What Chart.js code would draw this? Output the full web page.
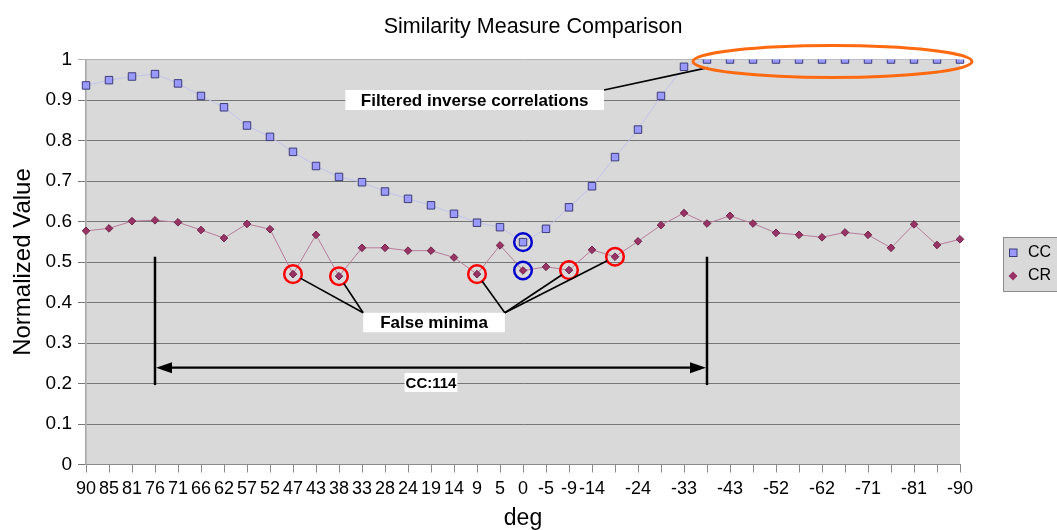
<!DOCTYPE html>
<html><head><meta charset="utf-8">
<script src="https://cdn.jsdelivr.net/npm/chart.js@4.4.1/dist/chart.umd.min.js"></script>
<style>html,body{margin:0;padding:0;background:#fff;}#wrap{width:1057px;height:530px;}</style>
</head><body><div id="wrap"><canvas id="c" width="1057" height="530"></canvas></div>
<script>
const categories = ['90','85','81','76','71','66','62','57','52','47','43','38','33','28','24','19','14','9','5','0','-5','-9','-14','-19','-24','-28','-33','-38','-43','-47','-52','-57','-62','-66','-71','-76','-81','-85','-90'];
const tickLabels = ['90','85','81','76','71','66','62','57','52','47','43','38','33','28','24','19','14','9','5','0','-5','-9','-14','','-24','','-33','','-43','','-52','','-62','','-71','','-81','','-90'];
const ccValues = [0.936,0.949,0.958,0.964,0.941,0.910,0.882,0.837,0.809,0.772,0.737,0.710,0.697,0.674,0.656,0.640,0.619,0.597,0.586,0.549,0.582,0.635,0.687,0.759,0.827,0.910,0.982,1,1,1,1,1,1,1,1,1,1,1,1];
const crValues = [0.577,0.583,0.601,0.603,0.598,0.579,0.559,0.594,0.581,0.470,0.567,0.465,0.535,0.535,0.528,0.528,0.511,0.470,0.541,0.479,0.488,0.480,0.530,0.513,0.551,0.591,0.621,0.595,0.614,0.595,0.572,0.567,0.561,0.573,0.567,0.535,0.593,0.542,0.556];
const falseMinimaIdx = [9,11,17,21,23];
const trueMinimumIdx = 19;
const ccSpanIdx = [3,27];
const filteredIdx = [27,38];
const chartTitle = 'Similarity Measure Comparison';

const FONT = "'Liberation Sans', Arial, sans-serif";
Chart.defaults.font.family = FONT;
Chart.defaults.color = '#000';

const annot = {
  id: 'annot',
  beforeDraw(chart) {
    const {ctx, chartArea: a} = chart;
    ctx.save();
    ctx.fillStyle = '#d9d9d9';
    ctx.fillRect(a.left, a.top, a.right - a.left, a.bottom - a.top);
    ctx.fillStyle = '#000'; ctx.font = '21.5px ' + FONT; ctx.textAlign = 'center'; ctx.textBaseline = 'alphabetic';
    ctx.fillText(chartTitle, 533, 32.5);
    ctx.restore();
  },
  afterDatasetsDraw(chart) {
    const ctx = chart.ctx, xs = chart.scales.x, ys = chart.scales.y;
    const X = i => xs.getPixelForValue(i), Y = v => ys.getPixelForValue(v);
    ctx.save();
    const circle = (x, y, r, col) => { ctx.beginPath(); ctx.arc(x, y, r, 0, Math.PI*2); ctx.strokeStyle = col; ctx.lineWidth = 2.5; ctx.stroke(); };
    const line = (x1,y1,x2,y2,w) => { ctx.beginPath(); ctx.moveTo(x1,y1); ctx.lineTo(x2,y2); ctx.strokeStyle='#000'; ctx.lineWidth=w; ctx.stroke(); };
    const box = (text, cx, cy, padX, h, size) => {
      ctx.font = 'bold ' + size + 'px ' + FONT;
      const w = ctx.measureText(text).width + padX*2;
      ctx.fillStyle = '#fff';
      ctx.fillRect(cx - w/2, cy - h/2, w, h);
      ctx.fillStyle = '#000'; ctx.textAlign = 'center'; ctx.textBaseline = 'middle';
      ctx.fillText(text, cx, cy + 1);
      return {l: cx - w/2, r: cx + w/2, t: cy - h/2, b: cy + h/2};
    };
    const R = 8.8;
    const xa = X(ccSpanIdx[0]), xb = X(ccSpanIdx[1]);
    line(xa, Y(0.513), xa, Y(0.196), 2.5);
    line(xb, Y(0.513), xb, Y(0.196), 2.5);
    const ya = Y(0.239);
    line(xa + 14, ya, xb - 14, ya, 2.2);
    ctx.fillStyle = '#000';
    ctx.beginPath(); ctx.moveTo(xa + 1, ya); ctx.lineTo(xa + 17, ya - 5.5); ctx.lineTo(xa + 17, ya + 5.5); ctx.closePath(); ctx.fill();
    ctx.beginPath(); ctx.moveTo(xb - 1, ya); ctx.lineTo(xb - 17, ya - 5.5); ctx.lineTo(xb - 17, ya + 5.5); ctx.closePath(); ctx.fill();
    box('CC:114', X(15.0), Y(0.2025), 1, 19, 15);
    const fm = box('False minima', X(15.13), Y(0.3506), 17, 19.5, 17);
    falseMinimaIdx.forEach((i) => {
      const cx = X(i), cy = Y(crValues[i]);
      circle(cx, cy, R, '#ff0000');
      const ax = i < 15 ? fm.l : fm.r, ay = fm.t;
      const dx = ax - cx, dy = ay - cy, d = Math.hypot(dx, dy);
      line(cx + dx/d*R, cy + dy/d*R, ax, ay, 1.6);
    });
    circle(X(trueMinimumIdx), Y(ccValues[trueMinimumIdx]), R, '#0000cc');
    circle(X(trueMinimumIdx), Y(crValues[trueMinimumIdx]), R, '#0000cc');
    const fb = box('Filtered inverse correlations', X(16.9), Y(0.9), 15.5, 20, 17);
    line(fb.r, fb.t, X(filteredIdx[0]) + 1, Y(0.98), 1.6);
    const el = X(filteredIdx[0] - 0.61), er = X(filteredIdx[1] + 0.52);
    ctx.beginPath();
    ctx.ellipse((el+er)/2, Y(0.995), (er-el)/2, 16, 0, 0, Math.PI*2);
    ctx.strokeStyle = '#ff6a10'; ctx.lineWidth = 3; ctx.stroke();
    // legend
    ctx.fillStyle = '#d9d9d9'; ctx.fillRect(1003, 237, 60, 54);
    ctx.strokeStyle = '#8c8c8c'; ctx.lineWidth = 1; ctx.strokeRect(1003.5, 237.5, 60, 54);
    ctx.fillStyle = '#9999ff'; ctx.fillRect(1009.5, 249, 7.5, 7.5);
    ctx.strokeStyle = '#3c3c78'; ctx.strokeRect(1009.5, 249, 7.5, 7.5);
    ctx.fillStyle = '#993366'; ctx.beginPath();
    ctx.moveTo(1013, 271.5); ctx.lineTo(1017.5, 276); ctx.lineTo(1013, 280.5); ctx.lineTo(1008.5, 276); ctx.closePath(); ctx.fill();
    ctx.fillStyle = '#000'; ctx.font = '16px ' + FONT; ctx.textAlign = 'left'; ctx.textBaseline = 'middle';
    ctx.fillText('CC', 1028, 253); ctx.fillText('CR', 1028, 276);
    ctx.restore();
  }
};

new Chart(document.getElementById('c'), {
  type: 'line',
  data: {
    labels: categories,
    datasets: [
      { label: 'CC', data: ccValues, borderColor: '#c2c2ee', borderWidth: 1, pointStyle: 'rect', pointRadius: 5.3,
        pointBackgroundColor: '#9999ff', pointBorderColor: '#3c3c78', pointBorderWidth: 1, tension: 0 },
      { label: 'CR', data: crValues, borderColor: '#b87c9a', borderWidth: 1, pointStyle: 'rectRot', pointRadius: 3.8,
        pointBackgroundColor: '#993366', pointBorderColor: '#6e2549', pointBorderWidth: 1, tension: 0 }
    ]
  },
  options: {
    responsive: false, animation: false, events: [],
    layout: { padding: { left: 0, right: 97, top: 59.5, bottom: 0 } },
    plugins: { legend: { display: false }, tooltip: { enabled: false }, title: { display: false } },
    scales: {
      x: {
        offset: false,
        afterFit: s => { s.height = 65.5; },
        grid: { drawOnChartArea: false, drawTicks: true, tickLength: 8, tickColor: '#8a8a8a' },
        border: { display: true, color: '#8a8a8a', width: 1 },
        ticks: { autoSkip: false, maxRotation: 0, minRotation: 0, padding: 6, color: '#000',
          font: { size: 18 }, callback: (v, i) => tickLabels[i] },
        title: { display: true, text: 'deg', color: '#000', font: { size: 23, lineHeight: 1 }, padding: { top: 0, bottom: 0 } }
      },
      y: {
        min: 0, max: 1,
        afterFit: s => { s.width = 86; },
        grid: { color: c => (c.tick && c.tick.value === 1) ? '#b4b4b4' : '#767676', lineWidth: 1, tickLength: 8,
          tickColor: c => (c.tick && c.tick.value === 1) ? '#b4b4b4' : '#767676' },
        border: { display: true, color: '#a6a6a6', width: 1.5 },
        ticks: { stepSize: 0.1, padding: 6, color: '#000', font: { size: 19 },
          callback: v => String(Math.round(v * 10) / 10) },
        title: { display: true, text: 'Normalized Value', color: '#000', font: { size: 24, lineHeight: 1 }, padding: { top: 11.5, bottom: 0 } }
      }
    }
  },
  plugins: [annot]
});
</script></body></html>
